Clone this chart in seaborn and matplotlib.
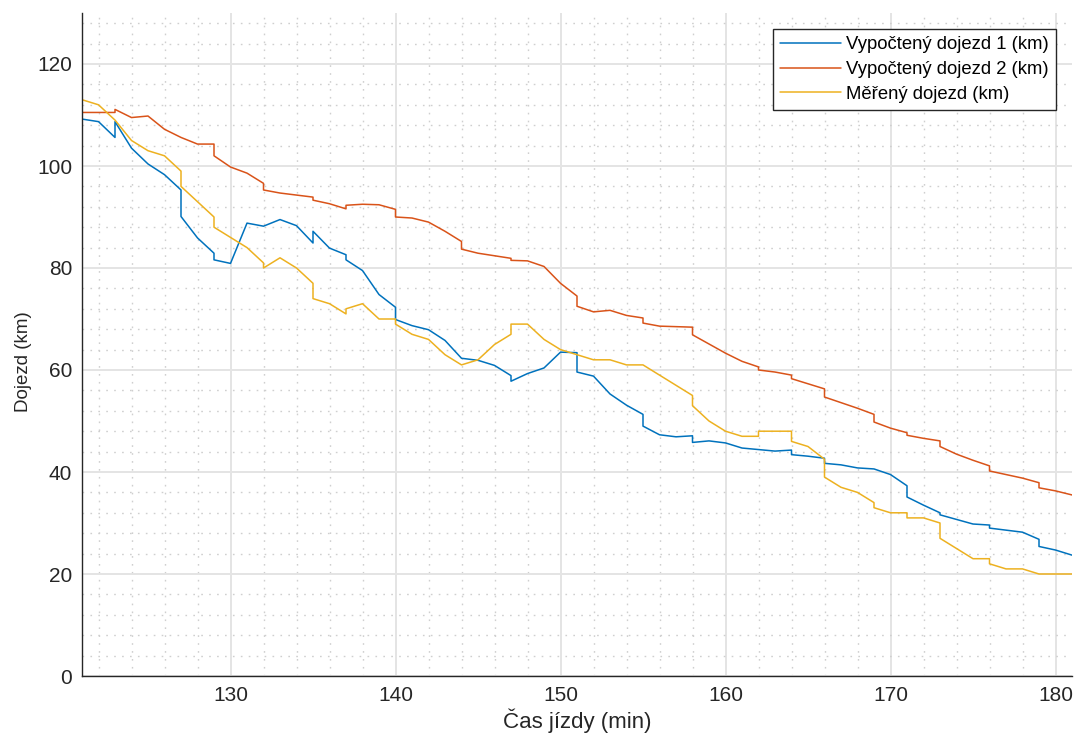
import matplotlib
matplotlib.use('Agg')
import matplotlib.pyplot as plt
from matplotlib.ticker import MultipleLocator
import seaborn as sns
import pandas as pd

# Range data (minutes, km); repeated minutes are the jumps
blue_x = [121, 122, 123, 123, 124, 125, 126, 127, 127, 128, 129, 129, 130, 131, 132, 133, 134,
          135, 135, 136, 137, 137, 138, 139, 140, 140, 141, 142, 143, 144, 145, 146, 147, 147,
          148, 149, 150, 151, 151, 152, 153, 154, 155, 155, 156, 157, 158, 158, 159, 160, 161,
          162, 163, 164, 164, 165, 166, 166, 167, 168, 169, 170, 171, 171, 172, 173, 173, 174,
          175, 176, 176, 177, 178, 179, 179, 180, 181]
blue_y = [109.2, 108.7, 105.6, 108.7, 103.5, 100.4, 98.3, 95.3, 90.1, 85.9, 82.9, 81.6, 80.9,
          88.8, 88.2, 89.5, 88.3, 84.9, 87.2, 83.9, 82.6, 81.6, 79.5, 74.8, 72.3, 69.9, 68.7,
          67.9, 65.8, 62.3, 61.9, 60.9, 58.9, 57.8, 59.3, 60.4, 63.5, 63.4, 59.6, 58.8, 55.3,
          53.1, 51.3, 49.0, 47.3, 46.9, 47.1, 45.8, 46.1, 45.7, 44.7, 44.4, 44.1, 44.3, 43.4,
          43.1, 42.7, 41.7, 41.4, 40.8, 40.6, 39.5, 37.3, 35.1, 33.5, 32.0, 31.6, 30.7, 29.8,
          29.6, 29.0, 28.6, 28.2, 26.8, 25.4, 24.7, 23.7]

red_x = [121, 122, 123, 123, 124, 125, 126, 127, 128, 129, 129, 130, 131, 132, 132, 133, 134,
         135, 135, 136, 137, 137, 138, 139, 140, 140, 141, 142, 143, 144, 144, 145, 146, 147,
         147, 148, 149, 150, 151, 151, 152, 153, 154, 155, 155, 156, 157, 158, 158, 159, 160,
         161, 162, 162, 163, 164, 164, 165, 166, 166, 167, 168, 169, 169, 170, 171, 171, 172,
         173, 173, 174, 175, 176, 176, 177, 178, 179, 179, 180, 181]
red_y = [110.5, 110.5, 110.5, 111.1, 109.5, 109.8, 107.2, 105.6, 104.3, 104.3, 102.0, 99.8,
         98.6, 96.6, 95.3, 94.7, 94.3, 93.9, 93.3, 92.6, 91.6, 92.3, 92.5, 92.4, 91.5, 90.0,
         89.8, 89.0, 87.2, 85.2, 83.7, 82.9, 82.4, 81.9, 81.5, 81.4, 80.3, 77.0, 74.5, 72.5,
         71.4, 71.7, 70.7, 70.2, 69.2, 68.6, 68.5, 68.4, 66.9, 65.1, 63.3, 61.7, 60.6, 60.0,
         59.6, 59.0, 58.3, 57.3, 56.3, 54.7, 53.6, 52.5, 51.3, 49.8, 48.6, 47.7, 47.2, 46.6,
         46.1, 45.0, 43.5, 42.3, 41.2, 40.2, 39.5, 38.8, 37.9, 36.9, 36.3, 35.5]

yellow_x = [121, 122, 123, 124, 125, 126, 127, 127, 128, 129, 129, 130, 131, 132, 132, 133,
            134, 135, 135, 136, 137, 137, 138, 139, 140, 140, 141, 142, 143, 144, 145, 146,
            147, 147, 148, 149, 150, 151, 152, 153, 154, 155, 156, 157, 158, 158, 159, 160,
            161, 162, 162, 163, 164, 164, 165, 166, 166, 167, 168, 169, 169, 170, 171, 171,
            172, 173, 173, 174, 175, 176, 176, 177, 178, 179, 180, 181]
yellow_y = [113, 112, 109, 105, 103, 102, 99, 96, 93, 90, 88, 86, 84, 81, 80, 82, 80, 77, 74,
            73, 71, 72, 73, 70, 70, 69, 67, 66, 63, 61, 62, 65, 67, 69, 69, 66, 64, 63, 62, 62,
            61, 61, 59, 57, 55, 53, 50, 48, 47, 47, 48, 48, 48, 46, 45, 42.5, 39, 37, 36, 34,
            33, 32, 32, 31, 31, 30, 27, 25, 23, 23, 22, 21, 21, 20, 20, 20]

labels = ['Vypočtený dojezd 1 (km)', 'Vypočtený dojezd 2 (km)', 'Měřený dojezd (km)']
colors = ['#0072BD', '#D95319', '#EDB120']

frames = []
for lab, xs, ys in zip(labels, [blue_x, red_x, yellow_x], [blue_y, red_y, yellow_y]):
    frames.append(pd.DataFrame({'cas': xs, 'dojezd': ys, 'serie': lab}))
df = pd.concat(frames, ignore_index=True)

sns.set_style('white')
plt.rcParams['font.family'] = ['Liberation Sans', 'DejaVu Sans']

fig = plt.figure(figsize=(10.76, 7.40), dpi=100)
ax = fig.add_axes([82 / 1076, 64 / 740, 990 / 1076, 663 / 740])

sns.lineplot(data=df, x='cas', y='dojezd', hue='serie', palette=colors,
             estimator=None, sort=False, linewidth=1.1, ax=ax)

ax.set_xlim(121, 181)
ax.set_ylim(0, 130)
ax.xaxis.set_major_locator(MultipleLocator(10))
ax.xaxis.set_minor_locator(MultipleLocator(2))
ax.yaxis.set_major_locator(MultipleLocator(20))
ax.yaxis.set_minor_locator(MultipleLocator(4))

ax.grid(True, which='major', color='#e4e4e4', linewidth=1.4, linestyle='-')
ax.grid(True, which='minor', color='#cfcfcf', linewidth=1.0, linestyle=(0, (1.2, 4.5)))
ax.set_axisbelow(True)

for side in ['top', 'right']:
    ax.spines[side].set_visible(False)
for side in ['left', 'bottom']:
    ax.spines[side].set_color('#262626')
    ax.spines[side].set_linewidth(1.0)

ax.tick_params(which='major', direction='in', length=7, width=1, color='#262626',
               labelcolor='#262626', labelsize=15, pad=7)
ax.tick_params(which='minor', length=0)

ax.set_xlabel('Čas jízdy (min)', fontsize=16, color='#262626', labelpad=3)
ax.set_ylabel('Dojezd (km)', fontsize=13.5, color='#262626')
ax.yaxis.set_label_coords(-0.05, 0.474)

handles, _ = ax.get_legend_handles_labels()
leg = ax.legend(handles, labels, loc='upper right', bbox_to_anchor=(0.984, 0.976),
                borderaxespad=0, fontsize=13.3, frameon=True, fancybox=False,
                framealpha=1, edgecolor='#262626', handlelength=3.3, handletextpad=0.25,
                labelspacing=0.42, borderpad=0.4)
leg.get_frame().set_linewidth(1.0)
for t in leg.get_texts():
    t.set_color('#000000')

fig.savefig('out.png', dpi=100)
